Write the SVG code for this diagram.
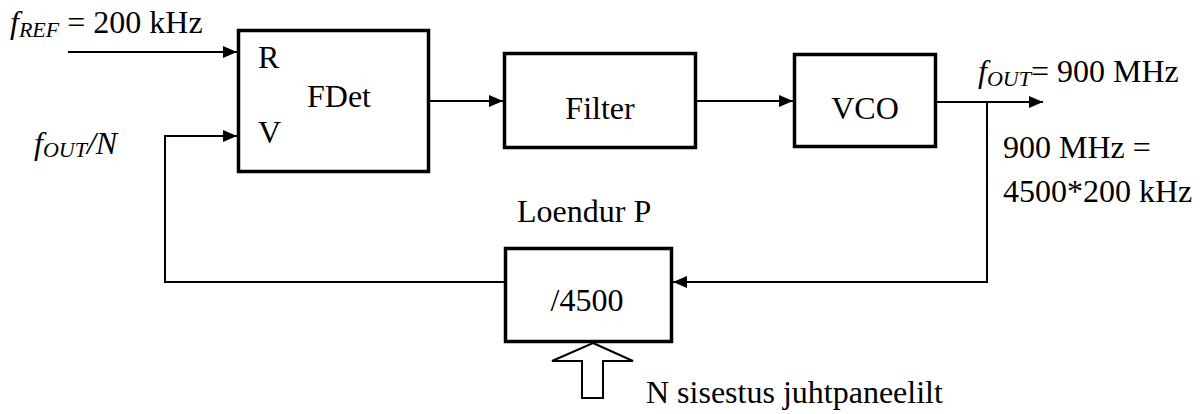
<svg xmlns="http://www.w3.org/2000/svg" width="1204" height="414" viewBox="0 0 1204 414" font-family="'Liberation Serif', 'Times New Roman', 'DejaVu Serif', serif">
<style>
.box{fill:#fff;stroke:#000;stroke-width:3.5}
.ln{fill:none;stroke:#000;stroke-width:2}
.t{font-family:'Liberation Serif','Times New Roman','DejaVu Serif',serif;font-size:32px;fill:#000}
.i{font-style:italic}
.s{font-size:22px;font-style:italic}
</style>
<defs>
<marker id="ah" viewBox="0 0 14 12" refX="14" refY="6" markerWidth="14" markerHeight="12" markerUnits="userSpaceOnUse" orient="auto">
<path d="M0,0 L14,6 L0,12 Z" fill="#000"/>
</marker>
</defs>
<rect width="1204" height="414" fill="#fff"/>
<g id="connectors">
<line class="ln" x1="68" y1="52" x2="237" y2="52" marker-end="url(#ah)"/>
<polyline class="ln" points="504,282 165,282 165,136 237,136" marker-end="url(#ah)"/>
<line class="ln" x1="430" y1="101" x2="503" y2="101" marker-end="url(#ah)"/>
<line class="ln" x1="697" y1="101" x2="793" y2="101" marker-end="url(#ah)"/>
<line class="ln" x1="937" y1="102" x2="1043" y2="102" marker-end="url(#ah)"/>
<polyline class="ln" points="987,102 987,282 673,282" marker-end="url(#ah)"/>
</g>
<g id="fdet">
<rect class="box" x="238.5" y="30.5" width="190" height="141"/>
<text class="t" x="258" y="68">R</text>
<text class="t" x="307" y="107">FDet</text>
<text class="t" x="258" y="143">V</text>
</g>
<g id="filter">
<rect class="box" x="504.5" y="53.5" width="191" height="94"/>
<text class="t" x="600" y="119" text-anchor="middle">Filter</text>
</g>
<g id="vco">
<rect class="box" x="794.5" y="54.5" width="141" height="92"/>
<text class="t" x="865" y="119" text-anchor="middle">VCO</text>
</g>
<g id="loendur">
<text class="t" x="517" y="222">Loendur P</text>
<rect class="box" x="505.5" y="248.5" width="166" height="93"/>
<text class="t" x="587" y="311" text-anchor="middle">/4500</text>
</g>
<g id="input">
<polygon points="593,343 633,361 603,361 603,398 582,398 582,361 552,361" fill="#fff" stroke="#000" stroke-width="2"/>
<text class="t" x="646" y="403">N sisestus juhtpaneelilt</text>
</g>
<g id="labels">
<text class="t" x="10" y="33"><tspan class="i">f</tspan><tspan class="s" dy="4">REF</tspan><tspan dy="-4"> = 200 kHz</tspan></text>
<text class="t" x="34" y="154"><tspan class="i">f</tspan><tspan class="s" dy="3">OUT</tspan><tspan class="i" dy="-3">/N</tspan></text>
<text class="t" x="978" y="82"><tspan class="i">f</tspan><tspan class="s" dy="4">OUT</tspan><tspan dy="-4">= 900 MHz</tspan></text>
<text class="t" x="1003" y="158">900 MHz =</text>
<text class="t" x="1003" y="202">4500*200 kHz</text>
</g>
</svg>
